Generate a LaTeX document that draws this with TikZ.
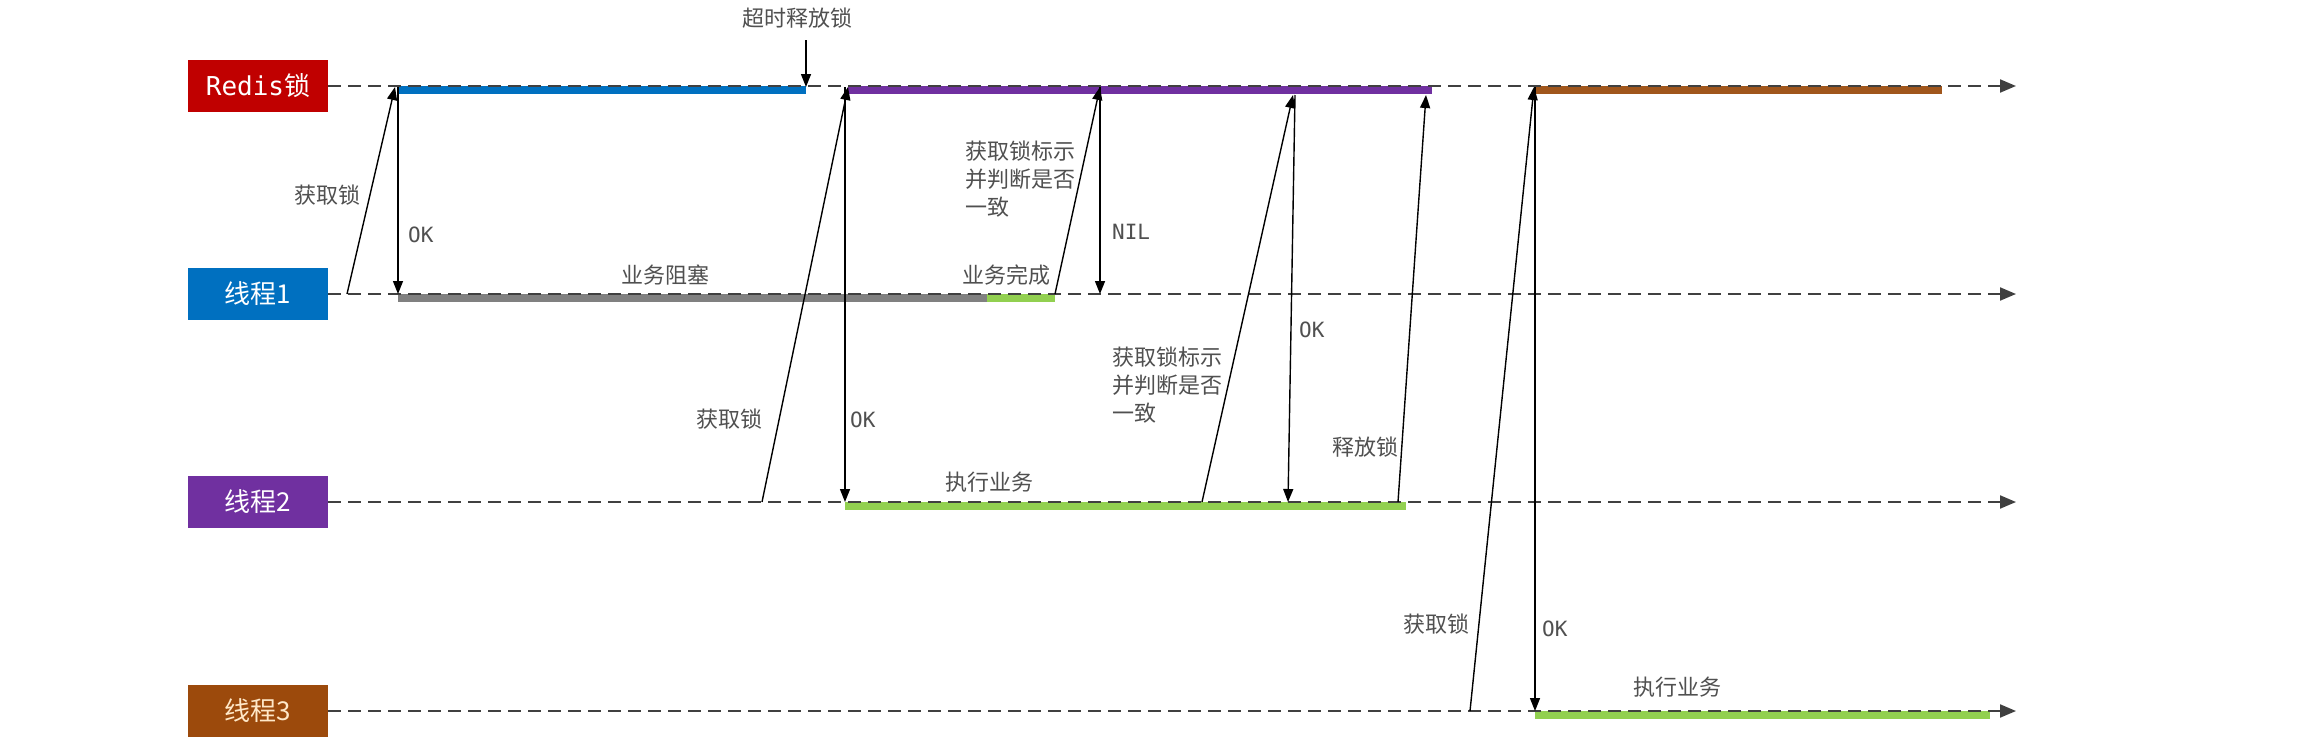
\documentclass[tikz,border=0pt]{standalone}
\usepackage{fontspec}
\setmainfont{Noto Sans CJK SC}
\newfontfamily\monof{DejaVu Sans Mono}
\usetikzlibrary{arrows.meta}
\definecolor{redisred}{HTML}{C00000}
\definecolor{tblue}{HTML}{0070C0}
\definecolor{tpurple}{HTML}{7030A0}
\definecolor{tbrown}{HTML}{9C4A0C}
\definecolor{barbrown}{HTML}{A0561C}
\definecolor{bargray}{HTML}{808080}
\definecolor{bargreen}{HTML}{92D050}
\definecolor{linegray}{HTML}{404040}
\definecolor{labelgray}{HTML}{505050}
\definecolor{cream}{HTML}{FFE8C8}
\begin{document}
\begin{tikzpicture}[x=1pt,y=-1pt,
  box/.style={minimum width=140pt, minimum height=52pt, inner sep=0pt, text=white, font=\fontsize{26}{30}\selectfont},
  lifeline/.style={draw=linegray, line width=2pt, dash pattern=on 13pt off 7pt, -{Triangle[length=16pt,width=13pt]}},
  msg/.style={draw=black, line width=1.4pt, -{Triangle[length=13pt,width=10pt]}},
  lbl/.style={text=labelgray, font=\fontsize{22}{28}\selectfont, inner sep=0pt},
  mlbl/.style={text=labelgray, font=\monof\fontsize{21}{26}\selectfont, inner sep=0pt},
]
\useasboundingbox[fill=white] (0,0) rectangle (2304,744);

% boxes
\node[box, fill=redisred] (redis) at (258,86) {{\monof Redis}锁};
\node[box, fill=tblue] (t1) at (258,294) {线程1};
\node[box, fill=tpurple] (t2) at (258,502) {线程2};
\node[box, fill=tbrown, text=cream] (t3) at (258,711) {线程3};

% lifeline ends
\coordinate (rend) at (2016,86);
\coordinate (t1end) at (2016,294);
\coordinate (t2end) at (2016,502);
\coordinate (t3end) at (2016,711);

% bars
\fill[tblue] (397,86) rectangle (806,94);
\fill[tpurple] (848,86) rectangle (1432,94);
\fill[barbrown] (1535,86) rectangle (1942,94);
\fill[bargray] (398,294) rectangle (987,302);
\fill[bargreen] (987,294) rectangle (1055,302);
\fill[bargreen] (845,502) rectangle (1406,510);
\fill[bargreen] (1535,711) rectangle (1990,719);

% lifelines
\draw[lifeline] (redis.east) -- (rend);
\draw[lifeline] (t1.east) -- (t1end);
\draw[lifeline] (t2.east) -- (t2end);
\draw[lifeline] (t3.east) -- (t3end);

% message coordinates
\coordinate (a1s) at (347,294);  \coordinate (a1e) at (395,87);
\coordinate (o1s) at (398,87);   \coordinate (o1e) at (398,294);
\coordinate (a2s) at (762,502);  \coordinate (a2e) at (848,87);
\coordinate (o2s) at (845,87);   \coordinate (o2e) at (845,502);
\coordinate (c1s) at (1055,294); \coordinate (c1e) at (1100,87);
\coordinate (n1s) at (1100,87);  \coordinate (n1e) at (1100,294);
\coordinate (c2s) at (1202,502); \coordinate (c2e) at (1293,95);
\coordinate (o3s) at (1295,95);  \coordinate (o3e) at (1288,502);
\coordinate (r1s) at (1398,502); \coordinate (r1e) at (1426,95);
\coordinate (a4s) at (1470,711); \coordinate (a4e) at (1534,87);
\coordinate (o4s) at (1535,87);  \coordinate (o4e) at (1535,711);
\coordinate (tos) at (806,40);   \coordinate (toe) at (806,87);

% messages
\draw[msg] (a1s) -- (a1e);
\draw[msg] (o1s) -- (o1e);
\draw[msg] (a2s) -- (a2e);
\draw[msg] (o2s) -- (o2e);
\draw[msg] (c1s) -- (c1e);
\draw[msg] (n1s) -- (n1e);
\draw[msg] (c2s) -- (c2e);
\draw[msg] (o3s) -- (o3e);
\draw[msg] (r1s) -- (r1e);
\draw[msg] (a4s) -- (a4e);
\draw[msg] (o4s) -- (o4e);
\draw[msg] (tos) -- (toe);

% labels
\node[lbl] (ltimeout) at (797,18) {超时释放锁};
\node[lbl] (lget1) at (327,195) {获取锁};
\node[mlbl, anchor=west] (lok1) at (408,235) {OK};
\node[lbl] (lblock) at (665,275) {业务阻塞};
\node[lbl] (lget2) at (729,419) {获取锁};
\node[mlbl, anchor=west] (lok2) at (850,420) {OK};
\node[lbl] (lexec2) at (989,482) {执行业务};
\node[lbl, anchor=north west, align=left] (lcheck1) at (965,141) {获取锁标示\\并判断是否\\一致};
\node[lbl] (ldone) at (1006,275) {业务完成};
\node[mlbl, anchor=west] (lnil) at (1112,232) {NIL};
\node[lbl, anchor=north west, align=left] (lcheck2) at (1112,347) {获取锁标示\\并判断是否\\一致};
\node[mlbl, anchor=west] (lok3) at (1299,330) {OK};
\node[lbl] (lrel) at (1365,447) {释放锁};
\node[lbl] (lget3) at (1436,624) {获取锁};
\node[mlbl, anchor=west] (lok4) at (1542,629) {OK};
\node[lbl] (lexec3) at (1677,687) {执行业务};
\end{tikzpicture}
\end{document}
